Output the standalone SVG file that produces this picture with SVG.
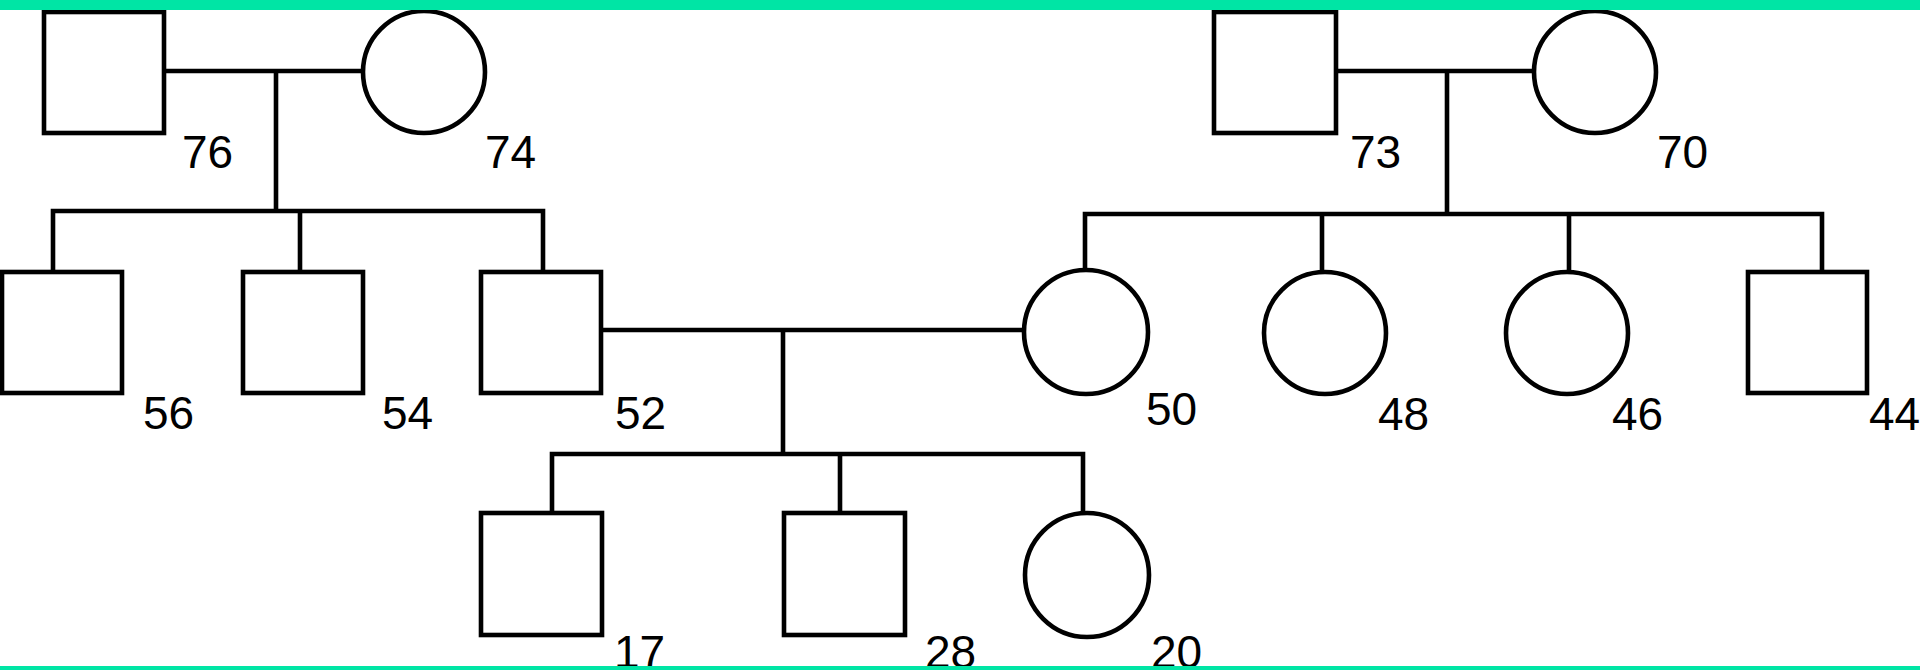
<svg xmlns="http://www.w3.org/2000/svg" width="1920" height="670" viewBox="0 0 1920 670">
<style>
.n{fill:#fff;stroke:#000;stroke-width:4.6}
.c{fill:none;stroke:#000;stroke-width:4.6;stroke-linecap:square}
.t{font-family:"Liberation Sans",Arial,sans-serif;font-size:46px;fill:#000}
</style>
<rect x="0" y="0" width="1920" height="670" fill="#fff"/>
<g id="connectors" class="c">
<path d="M164 71H363M276 71V211M53 211H543M53 211V272M300 211V272M543 211V272"/>
<path d="M1336 71H1534M1447 71V214M1085 214H1822M1085 214V270M1322 214V272M1569 214V272M1822 214V272"/>
<path d="M601 330H1024M783 330V454M552 454H1083M552 454V513M840 454V513M1083 454V513"/>
</g>
<g id="p76"><rect class="n" x="44" y="12" width="120" height="121"/><text class="t" x="182" y="168">76</text></g>
<g id="p74"><circle class="n" cx="424" cy="72" r="61"/><text class="t" x="485" y="168">74</text></g>
<g id="p73"><rect class="n" x="1214" y="12" width="122" height="121"/><text class="t" x="1350" y="168">73</text></g>
<g id="p70"><circle class="n" cx="1595" cy="72" r="61"/><text class="t" x="1657" y="168">70</text></g>
<g id="p56"><rect class="n" x="2" y="272" width="120" height="121"/><text class="t" x="143" y="429">56</text></g>
<g id="p54"><rect class="n" x="243" y="272" width="120" height="121"/><text class="t" x="382" y="429">54</text></g>
<g id="p52"><rect class="n" x="481" y="272" width="120" height="121"/><text class="t" x="615" y="429">52</text></g>
<g id="p50"><circle class="n" cx="1086" cy="332" r="62"/><text class="t" x="1146" y="425">50</text></g>
<g id="p48"><circle class="n" cx="1325" cy="333" r="61"/><text class="t" x="1378" y="430">48</text></g>
<g id="p46"><circle class="n" cx="1567" cy="333" r="61"/><text class="t" x="1612" y="430">46</text></g>
<g id="p44"><rect class="n" x="1748" y="272" width="119" height="121"/><text class="t" x="1869" y="430">44</text></g>
<g id="p17"><rect class="n" x="481" y="513" width="121" height="122"/><text class="t" x="614" y="668">17</text></g>
<g id="p28"><rect class="n" x="784" y="513" width="121" height="122"/><text class="t" x="925" y="668">28</text></g>
<g id="p20"><circle class="n" cx="1087" cy="575" r="62"/><text class="t" x="1151" y="668">20</text></g>
<rect x="0" y="0" width="1920" height="10" fill="#00E5A5"/>
<rect x="0" y="666" width="1920" height="4" fill="#00E5A5"/>
</svg>
